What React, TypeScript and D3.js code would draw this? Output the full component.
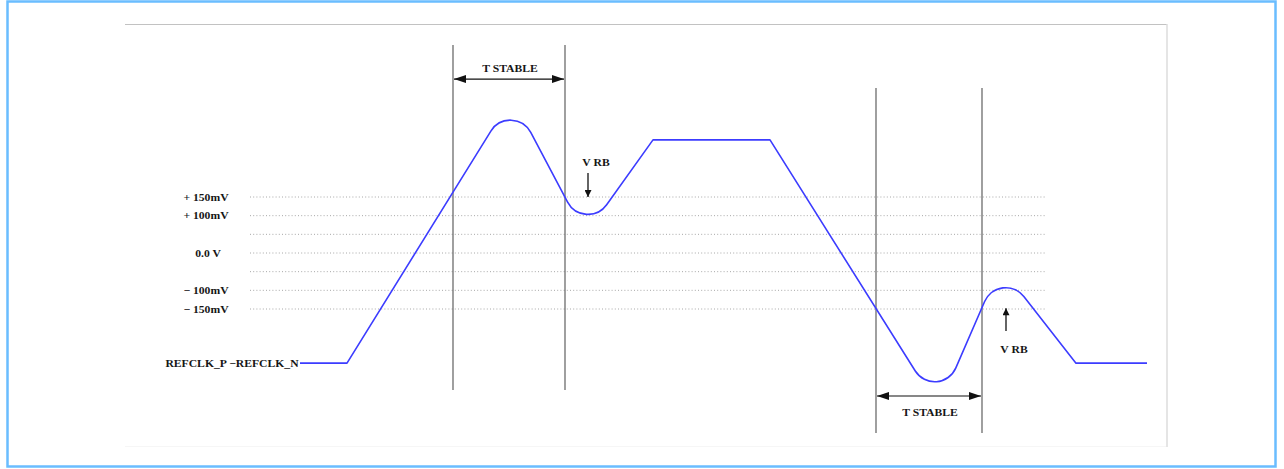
import React from 'react'
import * as d3 from 'd3'

// waveform vertices: time (arbitrary units) and differential voltage (mV)
const waveTime = [0, 9.4, 42.4, 57, 70.6, 94, 127.7, 140, 155.2, 169.4]
const waveMV = [-295, -295, 418, 48, 303, 303, -415, -35, -295, -295]
const waveRounded = [false, false, true, true, false, false, true, true, false, false]

// dotted reference levels
const gridLevelsMV = [150, 100, 50, 0, -50, -100, -150]
const labelLevelsMV = [150, 100, 0, -100, -150]
const labelTexts = ['+ 150mV', '+ 100mV', '0.0 V', '\u2212 100mV', '\u2212 150mV']

// T STABLE windows: start/end times, vertical extent, arrow level
const stableStart = [30.6, 115.2]
const stableEnd = [53, 136.4]
const stableTopMV = [557, 442]
const stableBottomMV = [-367, -482]
const stableArrowMV = [466, -383]
const stableTextMV = [495, -425]

// V RB ring-back arrows
const vrbTime = [57.6, 141.2]
const vrbTipMV = [150, -148]
const vrbTailMV = [214, -209]
const vrbTextMV = [244, -257]

const signalName = 'REFCLK_P \u2212REFCLK_N'

const W = 1284
const H = 469

const x = d3.scaleLinear().domain([0, 169.4]).range([300, 1147])
const y = d3.scaleLinear().domain([-150, 150]).range([309, 197])

const FONT = '"Liberation Serif", "Times New Roman", serif'

function Label({ x: tx, y: ty, anchor, children }: { x: number; y: number; anchor: string; children: React.ReactNode }) {
  return (
    <g transform={`translate(${tx},${ty}) scale(1.06,1)`}>
      <text
        textAnchor={anchor}
        fontFamily={FONT}
        fontWeight="bold"
        fontSize={11}
        fill="#161616"
      >
        {children}
      </text>
    </g>
  )
}

export default function App() {
  const p = d3.path()
  p.moveTo(x(waveTime[0]), y(waveMV[0]))
  for (let i = 1; i < waveTime.length - 1; i++) {
    if (waveRounded[i]) {
      p.arcTo(x(waveTime[i]), y(waveMV[i]), x(waveTime[i + 1]), y(waveMV[i + 1]), 23)
    } else {
      p.lineTo(x(waveTime[i]), y(waveMV[i]))
    }
  }
  const last = waveTime.length - 1
  p.lineTo(x(waveTime[last]), y(waveMV[last]))

  const gridX0 = x(-10)
  const gridX1 = x(149)

  return (
    <svg width={W} height={H} style={{ position: 'absolute', left: 0, top: 0, background: '#fff' }}>
      <defs>
        <marker id="head" viewBox="0 0 12 8" markerWidth={12} markerHeight={8} refX={12} refY={4}
          markerUnits="userSpaceOnUse" orient="auto-start-reverse">
          <path d="M0,0 L12,4 L0,8 z" fill="#111" />
        </marker>
        <marker id="head2" viewBox="0 0 10 10" markerWidth={10} markerHeight={7} refX={10} refY={5}
          markerUnits="userSpaceOnUse" orient="auto">
          <path d="M0,0 L10,5 L0,10 z" fill="#111" />
        </marker>
      </defs>

      {/* outer frame */}
      <rect x={7.5} y={1.5} width={1268} height={465} fill="none" stroke="#6abdff" strokeWidth={2.5} />

      {/* inner figure frame */}
      <line x1={125} x2={1167} y1={24.5} y2={24.5} stroke="#c2c2c2" strokeWidth={1} />
      <line x1={1167} x2={1167} y1={24} y2={447} stroke="#dcdcdc" strokeWidth={1.5} />
      <line x1={125} x2={1166} y1={446.5} y2={446.5} stroke="#f6f6f6" strokeWidth={1} />

      {/* dotted levels */}
      {gridLevelsMV.map((v) => (
        <line key={v} x1={gridX0} x2={gridX1} y1={y(v)} y2={y(v)}
          stroke="#a8a8a8" strokeWidth={1} strokeDasharray="1,2.2" />
      ))}

      {labelLevelsMV.map((v, i) => (
        <Label key={v} x={v === 0 ? 208 : 206} y={y(v) + 3.5} anchor="middle">{labelTexts[i]}</Label>
      ))}

      <Label x={232} y={y(waveMV[0]) + 3.5} anchor="middle">{signalName}</Label>

      {/* T STABLE windows */}
      {stableStart.map((t0, i) => {
        const t1 = stableEnd[i]
        return (
          <g key={i}>
            <line x1={x(t0)} x2={x(t0)} y1={y(stableTopMV[i])} y2={y(stableBottomMV[i])} stroke="#606060" strokeWidth={1.2} />
            <line x1={x(t1)} x2={x(t1)} y1={y(stableTopMV[i])} y2={y(stableBottomMV[i])} stroke="#606060" strokeWidth={1.2} />
            <line x1={x(t0) + 1} x2={x(t1) - 1} y1={y(stableArrowMV[i])} y2={y(stableArrowMV[i])}
              stroke="#111" strokeWidth={1.2} markerStart="url(#head)" markerEnd="url(#head)" />
            <Label x={(x(t0) + x(t1)) / 2 + 1} y={y(stableTextMV[i]) + 4} anchor="middle">T STABLE</Label>
          </g>
        )
      })}

      {/* V RB arrows */}
      {vrbTime.map((t, i) => (
        <g key={i}>
          <line x1={x(t)} x2={x(t)} y1={y(vrbTailMV[i])} y2={y(vrbTipMV[i])}
            stroke="#111" strokeWidth={1.3} markerEnd="url(#head2)" />
          <Label x={x(t) + 8} y={y(vrbTextMV[i]) + 4} anchor="middle">V RB</Label>
        </g>
      ))}

      {/* waveform */}
      <path d={p.toString()} fill="none" stroke="#3c3cff" strokeWidth={1.6} strokeLinejoin="round" />
    </svg>
  )
}
